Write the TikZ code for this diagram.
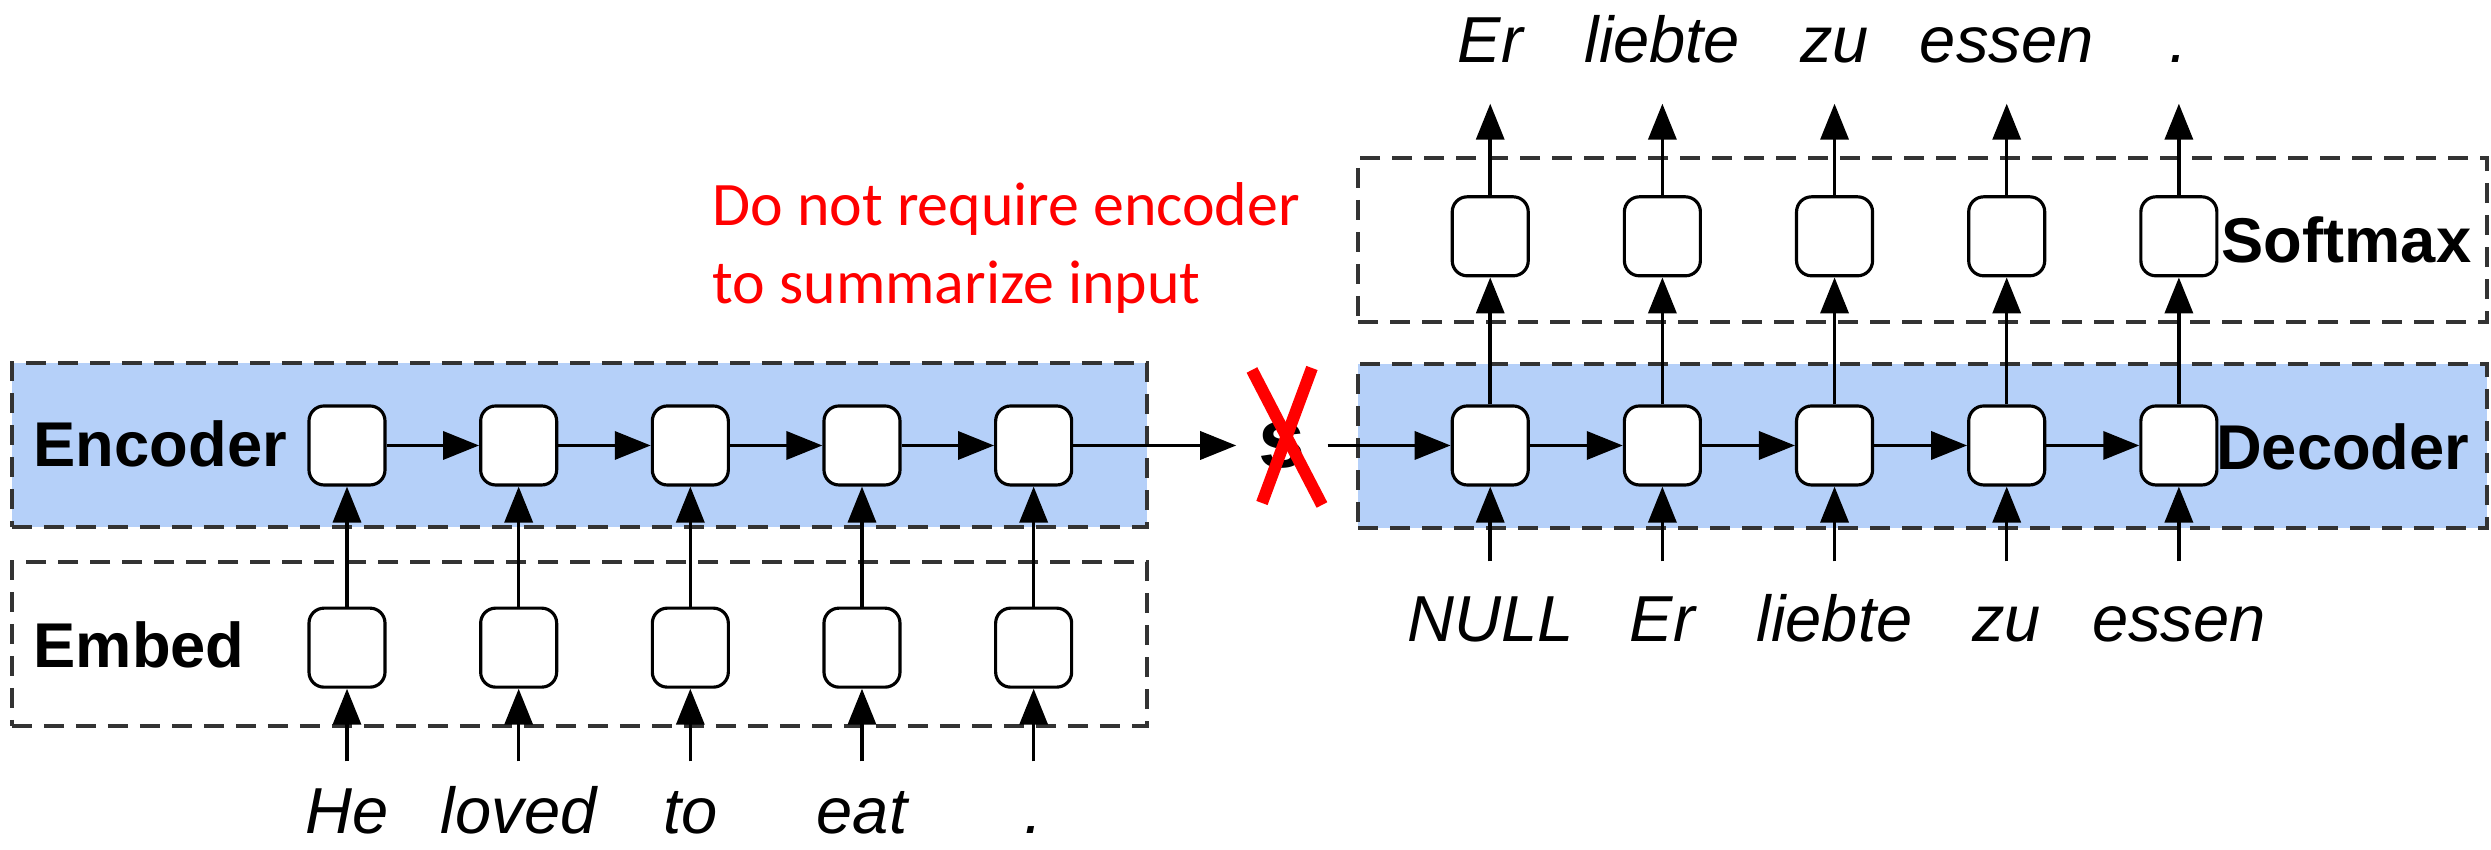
\documentclass[tikz,border=0pt]{standalone}
\usepackage{fontspec}
\setmainfont{Liberation Sans}
\newfontfamily\notefont{Carlito}
\usepackage{tikz}
\usetikzlibrary{arrows.meta,positioning,fit,backgrounds}
\definecolor{bandblue}{HTML}{B5D0F9}
\definecolor{framegray}{HTML}{333333}
\definecolor{xred}{HTML}{FF0000}
\tikzset{
  cell/.style={rectangle,rounded corners=0.15cm,
    minimum width=0.76cm,minimum height=0.79cm,inner sep=0pt,
    draw=black,fill=white,line width=0.9pt},
  band/.style={rectangle,draw=framegray,fill=#1,line width=1.1pt,
    dash pattern=on 0.2cm off 0.12cm,inner sep=0pt},
  band/.default={none},
  tag/.style={font=\fontsize{18}{22}\selectfont\bfseries,inner sep=0pt},
  word/.style={font=\fontsize{18.5}{22}\selectfont\itshape,anchor=base,
    inner sep=0pt},
  inword/.style={word,text height=0.8cm,text depth=0cm},
  outword/.style={word,text height=0.5cm,text depth=0.4cm},
  arr/.style={-{Triangle[length=0.36cm,width=0.28cm]},line width=1pt,#1},
  arr/.default={black},
  cross/.style={draw=xred,line width=0.12cm},
  notetext/.style={font=\notefont\fontsize{17.6}{22.2}\selectfont,text=xred,
    align=left,inner sep=0pt},
}

\begin{document}
\begin{tikzpicture}[node distance=1.2cm and 0.925cm]
  \useasboundingbox (0,0) rectangle (24.91,8.5);
  % encoder and embedding cells
  \node[cell] (e1) at (3.47,4.045) {};
  \node[cell,right=of e1] (e2) {};
  \node[cell,right=of e2] (e3) {};
  \node[cell,right=of e3] (e4) {};
  \node[cell,right=of e4] (e5) {};
  \node[cell,below=of e1] (m1) {};
  \node[cell,below=of e2] (m2) {};
  \node[cell,below=of e3] (m3) {};
  \node[cell,below=of e4] (m4) {};
  \node[cell,below=of e5] (m5) {};
  \node[font=\fontsize{24}{26}\selectfont\bfseries,minimum width=0.9cm,
    inner sep=0pt,right=1.63cm of e5] (s) {s};
  % decoder and softmax cells
  \node[cell,right=1.23cm of s] (d1) {};
  \node[cell,right=0.93cm of d1] (d2) {};
  \node[cell,right=0.93cm of d2] (d3) {};
  \node[cell,right=0.93cm of d3] (d4) {};
  \node[cell,right=0.93cm of d4] (d5) {};
  \node[cell,above=1.27cm of d1] (o1) {};
  \node[cell,above=1.27cm of d2] (o2) {};
  \node[cell,above=1.27cm of d3] (o3) {};
  \node[cell,above=1.27cm of d4] (o4) {};
  \node[cell,above=1.27cm of d5] (o5) {};
  \begin{scope}[on background layer]
    \node[band=bandblue,fit={(0.12,3.23)(11.47,4.87)}] (encbox) {};
    \node[band,fit={(0.12,1.24)(11.47,2.88)}] (embbox) {};
    \node[band=bandblue,fit={(13.58,3.22)(24.87,4.86)}] (decbox) {};
    \node[band,fit={(13.58,5.28)(24.87,6.92)}] (softbox) {};
  \end{scope}
  \node[tag,anchor=base west] (enctag) at (0.33,3.83) {Encoder};
  \node[tag,anchor=base west] (embtag) at (0.33,1.82) {Embed};
  \node[tag,anchor=base east] (dectag) at (24.70,3.80) {Decoder};
  \node[tag,anchor=base east] (softtag) at (24.72,5.87) {Softmax};
  % words
  \coordinate (srcline) at (0,0.16);
  \coordinate (prevline) at (0,2.08);
  \coordinate (outline) at (0,7.87);
  \node[inword,text height=0.72cm] (src1) at (m1 |- srcline) {He};
  \node[inword,text height=0.72cm] (src2) at (m2 |- srcline) {loved};
  \node[inword,text height=0.72cm] (src3) at (m3 |- srcline) {to};
  \node[inword,text height=0.72cm] (src4) at (m4 |- srcline) {eat};
  \node[inword,text height=0.72cm] (src5) at (m5 |- srcline) {.};
  \node[inword] (prev1) at (d1 |- prevline) {NULL};
  \node[inword] (prev2) at (d2 |- prevline) {Er};
  \node[inword] (prev3) at (d3 |- prevline) {liebte};
  \node[inword] (prev4) at (d4 |- prevline) {zu};
  \node[inword] (prev5) at (d5 |- prevline) {essen};
  \node[outword] (out1) at (o1 |- outline) {Er};
  \node[outword] (out2) at (o2 |- outline) {liebte};
  \node[outword] (out3) at (o3 |- outline) {zu};
  \node[outword] (out4) at (o4 |- outline) {essen};
  \node[outword] (out5) at (o5 |- outline) {.};
  % connectors
  \draw[arr] (src1) -- (m1); \draw[arr] (src2) -- (m2); \draw[arr] (src3) -- (m3);
  \draw[arr] (src4) -- (m4); \draw[arr] (src5) -- (m5);
  \draw[arr] (m1) -- (e1); \draw[arr] (m2) -- (e2); \draw[arr] (m3) -- (e3);
  \draw[arr] (m4) -- (e4); \draw[arr] (m5) -- (e5);
  \draw[arr] (e1) -- (e2); \draw[arr] (e2) -- (e3); \draw[arr] (e3) -- (e4);
  \draw[arr] (e4) -- (e5); \draw[arr] (e5) -- (s);
  \draw[arr] (s) -- (d1);
  \draw[arr] (d1) -- (d2); \draw[arr] (d2) -- (d3); \draw[arr] (d3) -- (d4);
  \draw[arr] (d4) -- (d5);
  \draw[arr] (prev1) -- (d1); \draw[arr] (prev2) -- (d2); \draw[arr] (prev3) -- (d3);
  \draw[arr] (prev4) -- (d4); \draw[arr] (prev5) -- (d5);
  \draw[arr] (d1) -- (o1); \draw[arr] (d2) -- (o2); \draw[arr] (d3) -- (o3);
  \draw[arr] (d4) -- (o4); \draw[arr] (d5) -- (o5);
  \draw[arr] (o1) -- (out1); \draw[arr] (o2) -- (out2); \draw[arr] (o3) -- (out3);
  \draw[arr] (o4) -- (out4); \draw[arr] (o5) -- (out5);
  % crossed-out summary vector
  \draw[cross] ([shift={(-0.30,0.755)}]s.center) -- ([shift={(0.40,-0.595)}]s.center);
  \draw[cross] ([shift={(0.30,0.775)}]s.center) -- ([shift={(-0.20,-0.575)}]s.center);
  \node[notetext,anchor=north west] (note) at (7.12,6.68)
    {Do not require encoder\\to summarize input};
\end{tikzpicture}
\end{document}
